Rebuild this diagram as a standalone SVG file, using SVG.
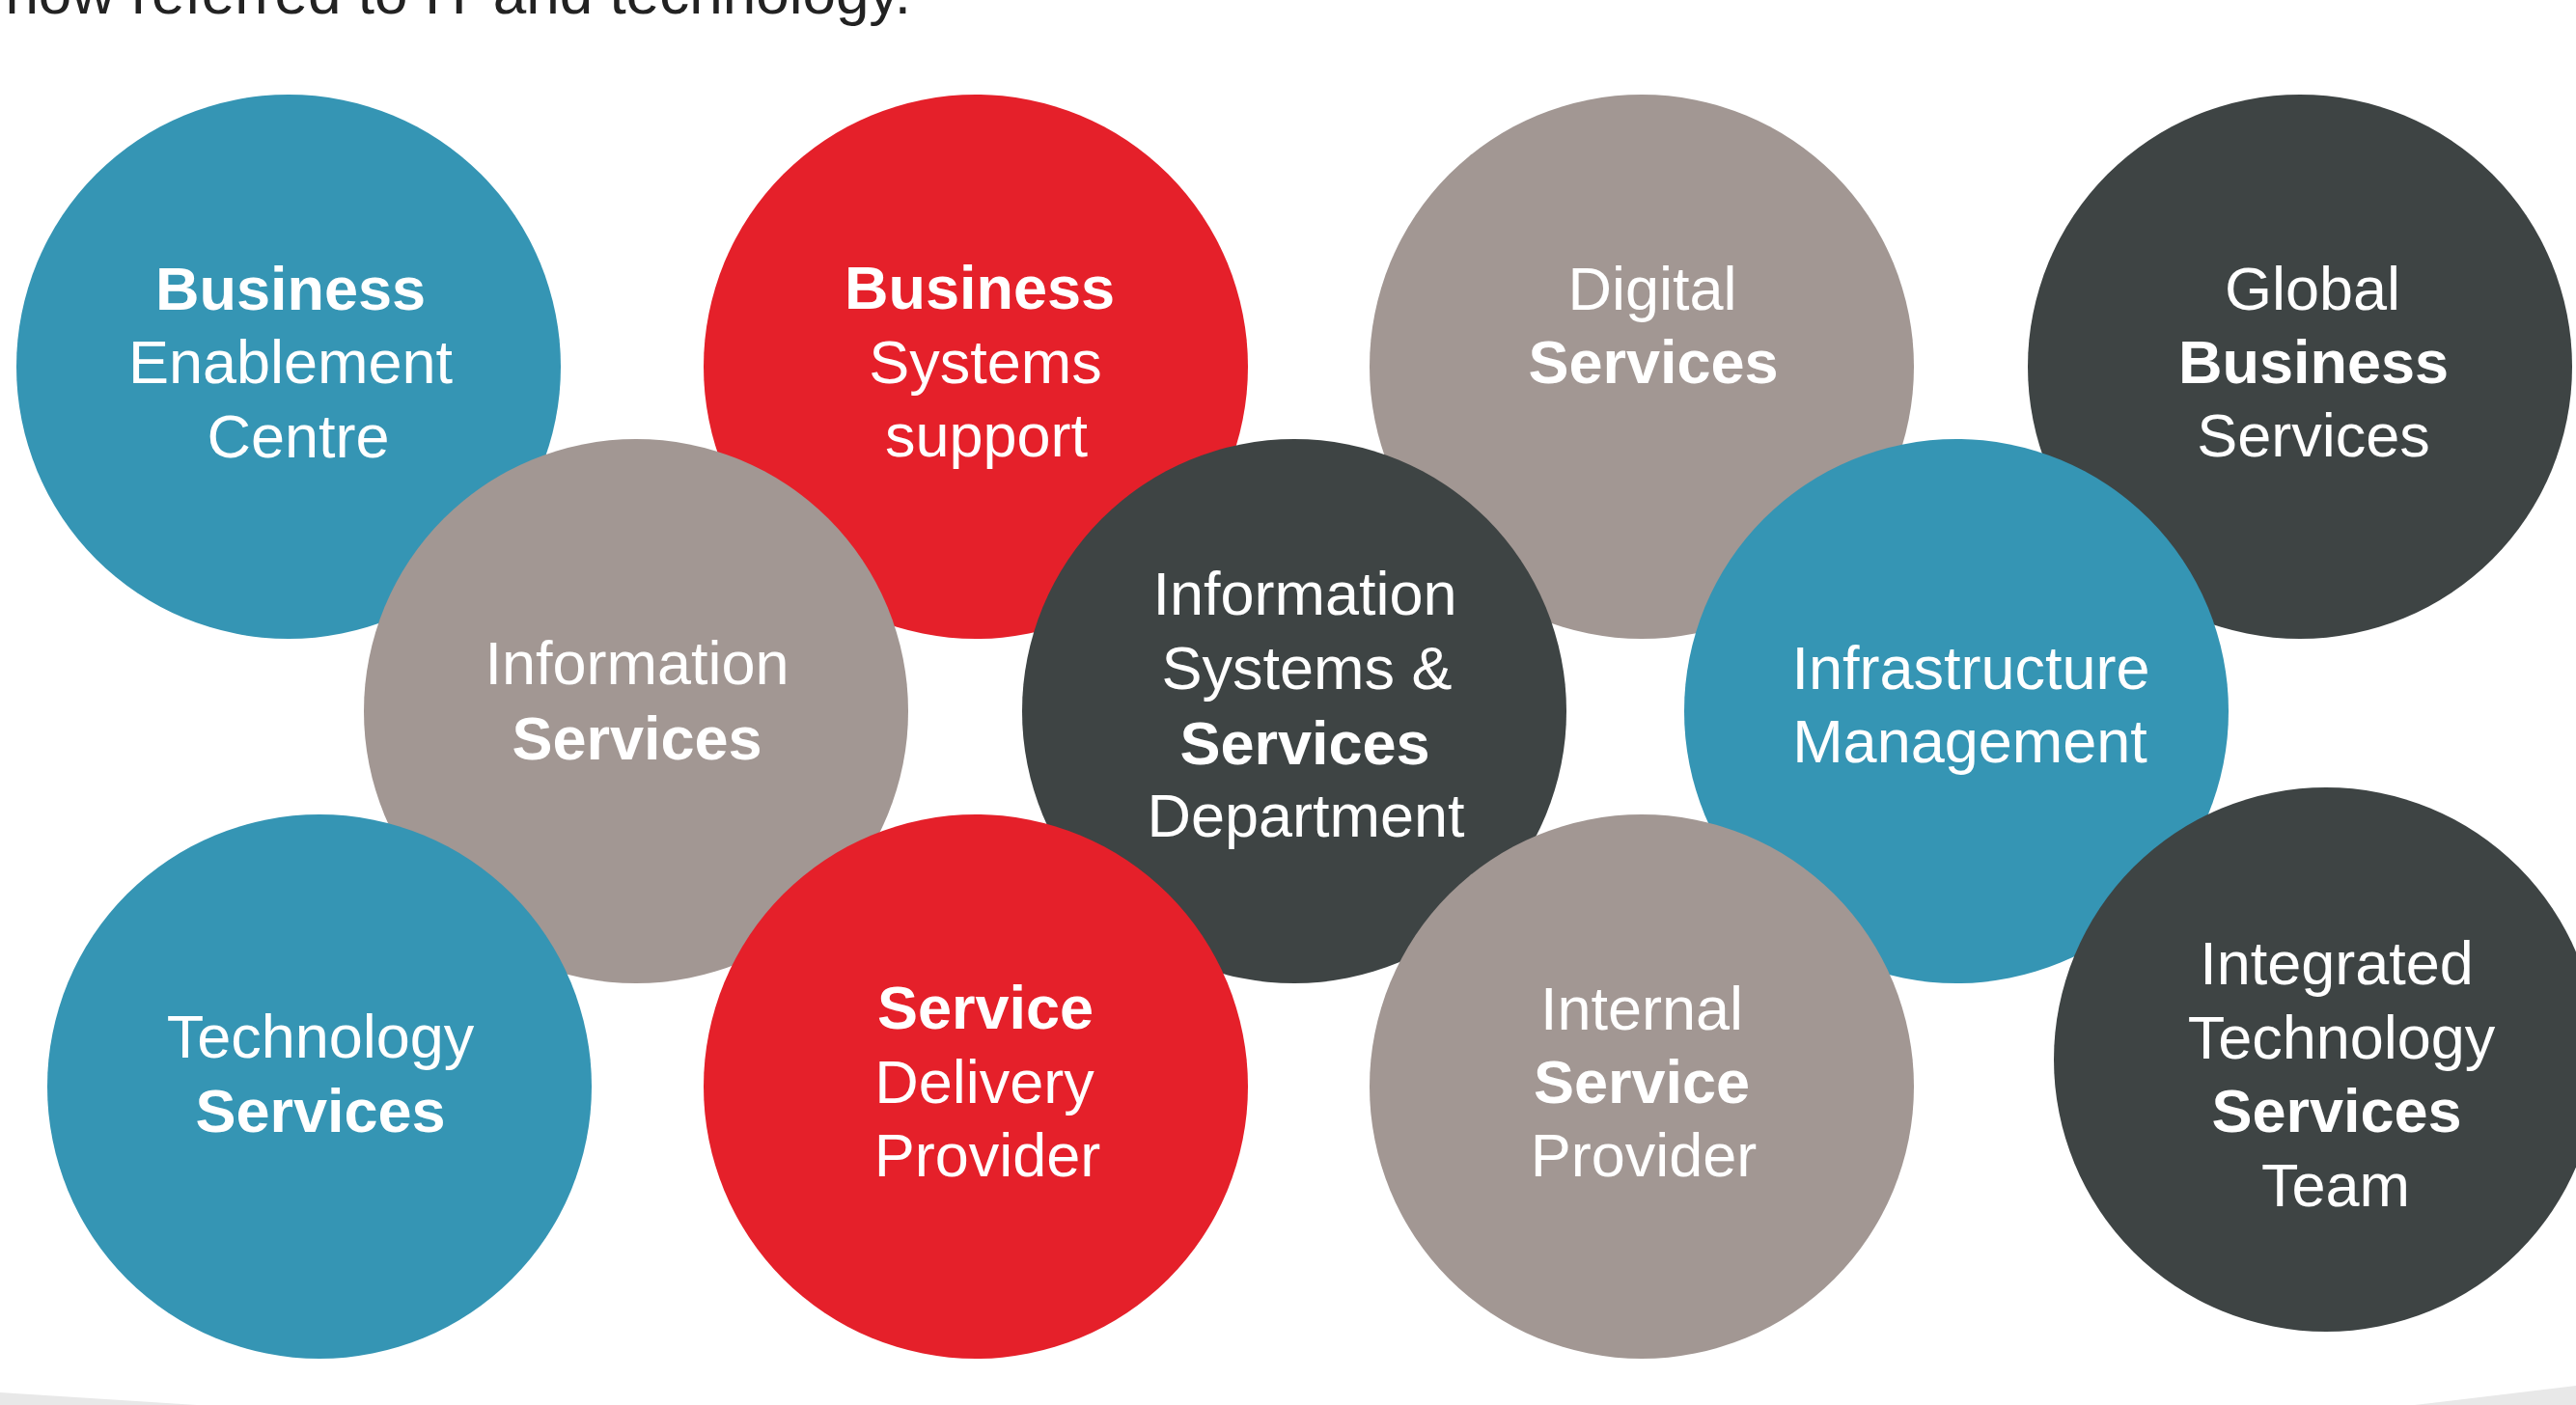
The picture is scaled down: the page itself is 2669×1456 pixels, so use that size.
<svg xmlns="http://www.w3.org/2000/svg" width="2669" height="1456" viewBox="0 0 2669 1456">
<style>
.t{font-family:"Liberation Sans",Arial,sans-serif;font-size:63px;fill:#ffffff;text-anchor:middle}
.b{font-weight:bold}
.blue{fill:#3595b4}
.red{fill:#e5202a}
.grey{fill:#a29793}
.dark{fill:#3e4444}
.top{font-family:"Liberation Sans",Arial,sans-serif;font-size:62px;fill:#222222;text-anchor:end}
</style>
<rect x="0" y="0" width="2669" height="1456" fill="#ffffff"/>
<text class="top" x="944" y="14">now referred to IT and technology.</text>
<path d="M0,1443 L204,1456 L0,1456 Z" fill="#e8e8e8"/>
<path d="M2502,1456 L2669,1436 L2669,1456 Z" fill="#e8e8e8"/>

<g id="row1">
<g id="business-enablement-centre">
<circle class="blue" cx="299" cy="380" r="282"/>
<text class="t b" x="301" y="321">Business</text>
<text class="t" x="301" y="397">Enablement</text>
<text class="t" x="309" y="474">Centre</text>
</g>
<g id="business-systems-support">
<circle class="red" cx="1011" cy="380" r="282"/>
<text class="t b" x="1015" y="320">Business</text>
<text class="t" x="1021" y="397">Systems</text>
<text class="t" x="1022" y="473">support</text>
</g>
<g id="digital-services">
<circle class="grey" cx="1701" cy="380" r="282"/>
<text class="t" x="1712" y="321">Digital</text>
<text class="t b" x="1713" y="397">Services</text>
</g>
<g id="global-business-services">
<circle class="dark" cx="2383" cy="380" r="282"/>
<text class="t" x="2396" y="321">Global</text>
<text class="t b" x="2397" y="397">Business</text>
<text class="t" x="2397" y="473">Services</text>
</g>
</g>

<g id="row2">
<g id="information-services">
<circle class="grey" cx="659" cy="737" r="282"/>
<text class="t" x="660" y="709">Information</text>
<text class="t b" x="660" y="787">Services</text>
</g>
<g id="information-systems-services-department">
<circle class="dark" cx="1341" cy="737" r="282"/>
<text class="t" x="1352" y="637">Information</text>
<text class="t" x="1354" y="714">Systems &amp;</text>
<text class="t b" x="1352" y="792">Services</text>
<text class="t" x="1353" y="867">Department</text>
</g>
<g id="infrastructure-management">
<circle class="blue" cx="2027" cy="737" r="282"/>
<text class="t" x="2042" y="714">Infrastructure</text>
<text class="t" x="2041" y="790">Management</text>
</g>
</g>

<g id="row3">
<g id="technology-services">
<circle class="blue" cx="331" cy="1126" r="282"/>
<text class="t" x="332" y="1096">Technology</text>
<text class="t b" x="332" y="1173">Services</text>
</g>
<g id="service-delivery-provider">
<circle class="red" cx="1011" cy="1126" r="282"/>
<text class="t b" x="1021" y="1066">Service</text>
<text class="t" x="1020" y="1143">Delivery</text>
<text class="t" x="1023" y="1219">Provider</text>
</g>
<g id="internal-service-provider">
<circle class="grey" cx="1701" cy="1126" r="282"/>
<text class="t" x="1701" y="1067">Internal</text>
<text class="t b" x="1701" y="1143">Service</text>
<text class="t" x="1703" y="1219">Provider</text>
</g>
<g id="integrated-technology-services-team">
<circle class="dark" cx="2410" cy="1098" r="282"/>
<text class="t" x="2421" y="1020">Integrated</text>
<text class="t" x="2426" y="1097">Technology</text>
<text class="t b" x="2421" y="1173">Services</text>
<text class="t" x="2420" y="1250">Team</text>
</g>
</g>
<g id="connectors"/>
</svg>
